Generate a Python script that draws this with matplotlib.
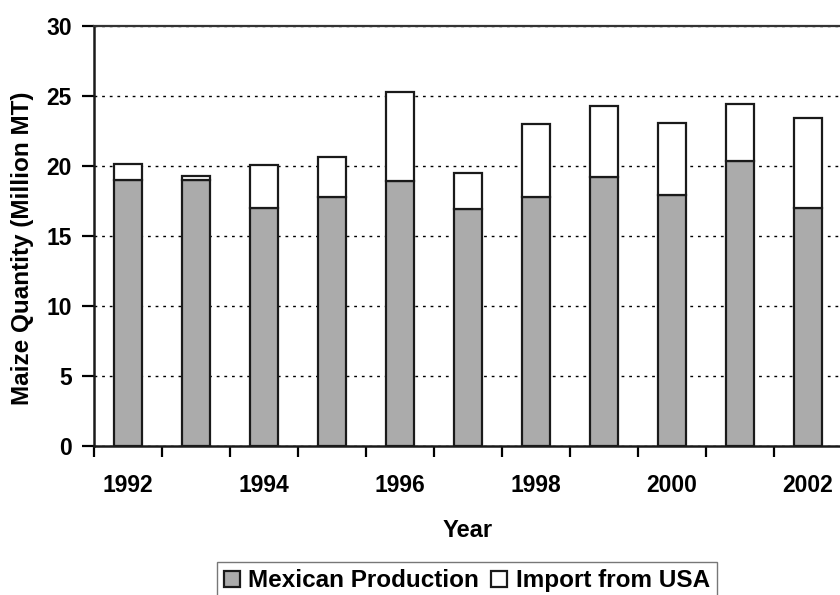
import matplotlib
matplotlib.use("Agg")
import matplotlib.pyplot as plt
import numpy as np

plt.rcParams['font.family'] = ['Liberation Sans', 'DejaVu Sans']
plt.rcParams['font.weight'] = 'bold'

# data (million MT)
years = [1992, 1993, 1994, 1995, 1996, 1997, 1998, 1999, 2000, 2001, 2002]
mexican_production = [19.0, 19.0, 17.0, 17.8, 18.95, 16.95, 17.8, 19.2, 17.9, 20.35, 17.0]
import_usa = [1.15, 0.3, 3.05, 2.85, 6.3, 2.55, 5.2, 5.05, 5.15, 4.1, 6.45]

fig = plt.figure(figsize=(8.4, 5.95), dpi=100)
# right edge sits just past the figure, like in the original crop
ax = fig.add_axes([94/840, 1-446/595, 748/840, 420/595])

x = np.arange(len(years))
w = 0.41
ax.bar(x, mexican_production, w, color='#ababab', edgecolor='#1a1a1a', linewidth=1.6,
       label='Mexican Production', zorder=3)
ax.bar(x, import_usa, w, bottom=mexican_production, color='white', edgecolor='#1a1a1a',
       linewidth=1.6, label='Import from USA', zorder=3)

ax.set_xlim(-0.5, len(years) - 0.5)
ax.set_ylim(0, 30)
ax.set_yticks(np.arange(0, 31, 5))
ax.yaxis.grid(True, linestyle=(0, (2, 3.5)), color='black', linewidth=1.0)
ax.set_axisbelow(True)

# ticks on category boundaries, labels only on even years
ax.set_xticks(np.arange(-0.5, len(years), 1.0))
ax.set_xticklabels([])
ax.set_xticks(x[::2], minor=True)
ax.set_xticklabels([str(y) for y in years[::2]], minor=True)
ax.tick_params(axis='x', which='minor', length=0, pad=20, labelsize=16.5)
ax.tick_params(axis='x', which='major', length=8, width=1.6, direction='out')
ax.tick_params(axis='y', length=9, width=1.6, direction='out', labelsize=16.5, pad=7)

for s in ['left', 'bottom']:
    ax.spines[s].set_linewidth(1.8)
    ax.spines[s].set_color('#1a1a1a')
ax.spines['top'].set_linewidth(1.6)
ax.spines['top'].set_color('#333333')
ax.spines['right'].set_visible(False)

ax.set_ylabel('Maize Quantity (Million MT)', fontsize=17.5, fontweight='bold')
ax.yaxis.set_label_coords(-0.08, 0.47)
ax.set_xlabel('Year', fontsize=17, fontweight='bold', labelpad=16)

leg = fig.legend(loc='upper center', bbox_to_anchor=(467/840, 1-562/595), ncol=2,
                 frameon=True, fancybox=False, edgecolor='#555555', fontsize=17.5,
                 handlelength=0.65, handleheight=0.65, handletextpad=0.35,
                 columnspacing=0.5, borderpad=0.3, borderaxespad=0)
leg.get_frame().set_linewidth(1.0)
for t in leg.get_texts():
    t.set_fontweight('bold')

fig.savefig('out.png', dpi=100)
